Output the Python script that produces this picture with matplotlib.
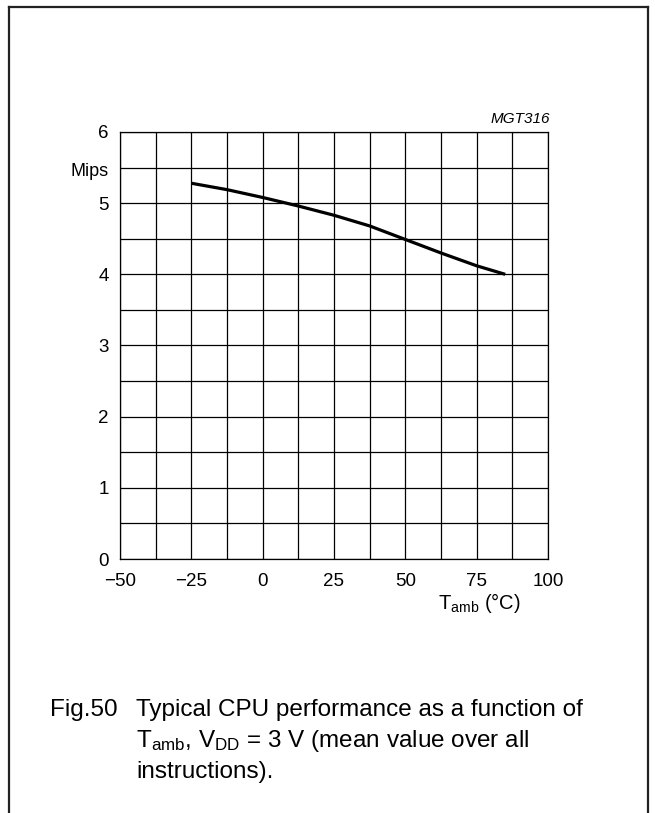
import numpy as np
import matplotlib
matplotlib.use("Agg")
import matplotlib.pyplot as plt
from matplotlib.lines import Line2D
from matplotlib.ticker import MultipleLocator

plt.rcParams["font.family"] = ["Liberation Sans", "DejaVu Sans"]
plt.rcParams["mathtext.fontset"] = "custom"
plt.rcParams["mathtext.rm"] = "Liberation Sans"
plt.rcParams["mathtext.it"] = "Liberation Sans:italic"

# CPU performance vs ambient temperature
temp = [-25, -12.5, 0, 12.5, 25, 37.5, 50, 62.5, 75, 85]
mips = [5.28, 5.19, 5.08, 4.96, 4.83, 4.68, 4.49, 4.30, 4.12, 4.00]

x_ticks = [-50, -25, 0, 25, 50, 75, 100]
y_ticks = [0, 1, 2, 3, 4, 5, 6]

W, H = 655, 813


def px(x, y):
    # pixel position (from top-left) -> figure fraction
    return x / W, 1 - y / H


def main():
    fig = plt.figure(figsize=(W / 100, H / 100), dpi=100)
    ax = fig.add_axes([120 / W, (H - 559) / H, 428 / W, 427 / H])

    ax.plot(temp, mips, color="black", linewidth=2.3, solid_capstyle="butt")

    ax.set_xlim(-50, 100)
    ax.set_ylim(0, 6)
    ax.set_xticks(x_ticks)
    ax.set_yticks(y_ticks)
    ax.set_xticklabels([str(t).replace("-", "\u2212") for t in x_ticks])
    ax.xaxis.set_minor_locator(MultipleLocator(12.5))
    ax.yaxis.set_minor_locator(MultipleLocator(0.5))
    ax.grid(which="both", color="black", linewidth=0.9)
    ax.tick_params(which="both", length=0, labelsize=13.5)
    ax.tick_params(axis="x", pad=10)
    ax.tick_params(axis="y", pad=8)
    for s in ax.spines.values():
        s.set_linewidth(0.9)

    fig.text(*px(109, 172), "Mips", ha="right", va="center", fontsize=13)
    fig.text(*px(550, 123), "MGT316", ha="right", va="baseline",
             fontsize=11, style="italic")
    fig.text(*px(521, 609), r"T$_{\mathrm{amb}}$ (°C)", ha="right", va="baseline",
             fontsize=14.5)

    # caption
    fig.text(*px(50, 716), "Fig.50", ha="left", va="baseline", fontsize=17.5)
    lines = ["Typical CPU performance as a function of",
             r"T$_{\mathrm{amb}}$, V$_{\mathrm{DD}}$ = 3 V (mean value over all",
             "instructions)."]
    baselines = [716, 747, 778]
    for txt, yb in zip(lines, baselines):
        fig.text(*px(136, yb), txt, ha="left", va="baseline", fontsize=17.5)

    # page frame (open at the bottom)
    kw = dict(color="#222222", linewidth=1.6, transform=fig.transFigure)
    x0, y0 = px(9, 7)
    x1, _ = px(648, 7)
    fig.add_artist(Line2D([x0, x0], [0, y0], **kw))
    fig.add_artist(Line2D([x0, x1], [y0, y0], **kw))
    fig.add_artist(Line2D([x1, x1], [y0, 0], **kw))

    fig.savefig("out.png", dpi=100)


if __name__ == "__main__":
    main()
